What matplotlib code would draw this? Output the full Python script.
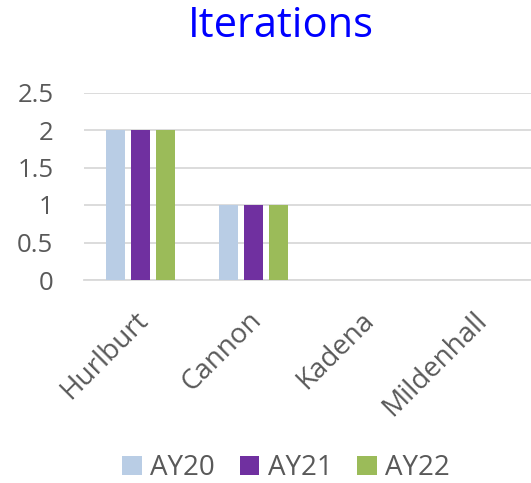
import matplotlib
matplotlib.use("Agg")
import matplotlib.pyplot as plt
from matplotlib.transforms import ScaledTranslation
import numpy as np

plt.rcParams['font.family'] = ['Open Sans', 'DejaVu Sans']

bases = ["Hurlburt", "Cannon", "Kadena", "Mildenhall"]
years = ["AY20", "AY21", "AY22"]
ay20 = [2, 1, 0, 0]
ay21 = [2, 1, 0, 0]
ay22 = [2, 1, 0, 0]
colors = ["#B9CDE5", "#7030A0", "#9BBB59"]

fig = plt.figure(figsize=(5.31, 4.83), dpi=100)
ax = fig.add_axes([84 / 531, 1 - 280 / 483, 447 / 531, 187.5 / 483])

x = np.arange(len(bases))
w = 0.168
step = 0.221
for i, (vals, lab) in enumerate(zip([ay20, ay21, ay22], years)):
    ax.bar(x + (i - 1) * step, vals, width=w, color=colors[i], label=lab, zorder=3)

ax.set_xlim(-0.5, 3.456)
ax.set_ylim(0, 2.5)
ax.set_yticks([0, 0.5, 1, 1.5, 2, 2.5])
ax.set_yticklabels(["0", "0.5", "1", "1.5", "2", "2.5"])
ax.yaxis.grid(True, color="#D9D9D9", linewidth=1.3, zorder=0)
for s in ["top", "right", "left"]:
    ax.spines[s].set_visible(False)
ax.spines["bottom"].set_color("#D9D9D9")
ax.spines["bottom"].set_linewidth(1.3)
ax.tick_params(axis="y", length=0, pad=22, labelsize=18.5, labelcolor="#595959")
ax.tick_params(axis="x", length=0, pad=19, labelsize=20, labelcolor="#595959")
ax.set_xticks(x)
ax.set_xticklabels(bases, rotation=45, ha="right", rotation_mode="anchor")
for lbl in ax.get_xticklabels():
    lbl.set_transform(lbl.get_transform() + ScaledTranslation(-0.06, 0, fig.dpi_scale_trans))

fig.text(281 / 531, 1 - 26 / 483, "Iterations", ha="center", va="center",
         fontsize=30, color="#0000FF")

fig.legend(loc="center", bbox_to_anchor=(286 / 531, 1 - 468 / 483), ncol=3, frameon=False,
           fontsize=20, handlelength=0.7, handleheight=0.7, handletextpad=0.3,
           columnspacing=0.9, labelcolor="#595959")

fig.savefig("out.png", dpi=100)
